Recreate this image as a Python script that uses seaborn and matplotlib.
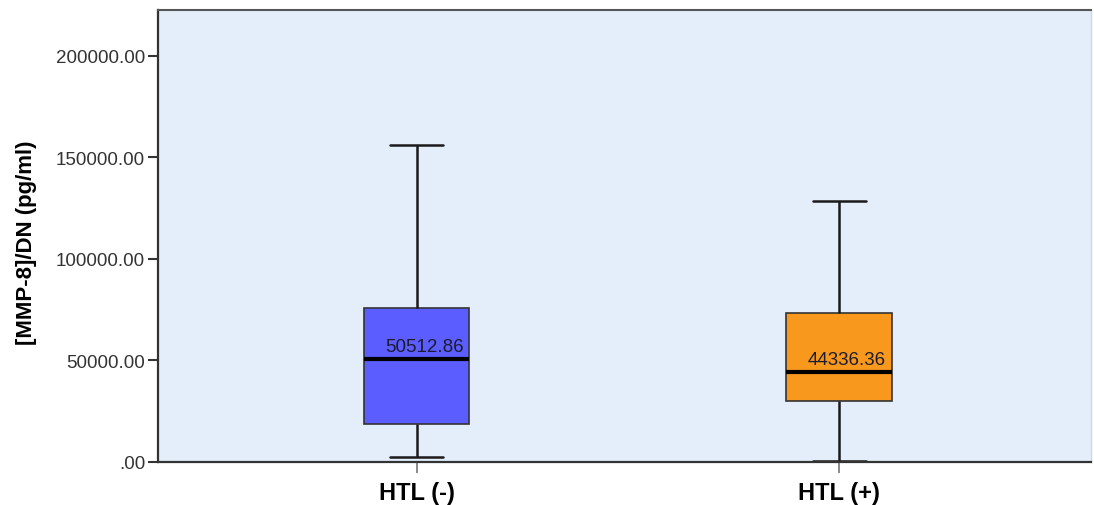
import numpy as np
import pandas as pd
import matplotlib
matplotlib.use("Agg")
import matplotlib.pyplot as plt
from matplotlib.ticker import FuncFormatter
import seaborn as sns

# Data: five-number summaries
categories = ["HTL (-)", "HTL (+)"]
mins = [2460, 500]
q1s = [18700, 30050]
medians = [50512.86, 44336.36]
q3s = [75570, 73250]
maxs = [156000, 128280]
yticks = [0, 50000, 100000, 150000, 200000]
ylabel = "[MMP-8]/DN (pg/ml)"
colors = ["#5b5dff", "#f8991e"]

rows = []
for c, a, b, m, d, e in zip(categories, mins, q1s, medians, q3s, maxs):
    for v in (a, b, m, d, e):
        rows.append({"group": c, "value": v})
df = pd.DataFrame(rows)

sns.set_style("white")
plt.rcParams["font.family"] = ["Liberation Sans", "DejaVu Sans"]

fig = plt.figure(figsize=(10.94, 5.06), dpi=100)
ax = fig.add_axes([0.1441, 0.0856, 0.8535, 0.8933])
ax.set_facecolor("#e3eefa")

sns.boxplot(data=df, x="group", y="value", hue="group", palette=colors,
            order=categories, hue_order=categories, width=0.25, whis=np.inf,
            saturation=1, linecolor="#1a1a1a", linewidth=1.8, legend=False, ax=ax,
            medianprops=dict(color="black", linewidth=3),
            boxprops=dict(edgecolor="#333333", linewidth=1.2))

for i, m in enumerate(medians):
    ax.annotate(f"{m:.2f}", xy=(i + 0.125, m), xytext=(-6, 4),
                textcoords="offset pixels", ha="right", va="bottom",
                fontsize=13.5, color="#1c1c2e")

ax.set_xlim(-0.613, 1.597)
ax.set_ylim(0, 222660)
ax.set_yticks(yticks)
ax.yaxis.set_major_formatter(FuncFormatter(lambda v, p: ".00" if v == 0 else f"{v:.2f}"))
ax.tick_params(axis="y", which="major", length=7, width=1.5, color="#333333",
               labelsize=13.5, labelcolor="#333333", pad=2, left=True)
ax.tick_params(axis="x", which="major", length=8, width=1.2, color="#777777",
               labelsize=17, labelcolor="black", pad=6, bottom=True)
for lab in ax.get_xticklabels():
    lab.set_fontweight("bold")
ax.set_xlabel("")
ax.set_ylabel(ylabel, fontsize=16, fontweight="bold", color="black")
ax.yaxis.set_label_coords(-0.129, 0.487)

for s in ["left", "bottom"]:
    ax.spines[s].set_color("#333333")
    ax.spines[s].set_linewidth(1.6)
ax.spines["top"].set_color("#555555")
ax.spines["top"].set_linewidth(1.5)
ax.spines["right"].set_color("#cfd8e2")
ax.spines["right"].set_linewidth(1.0)

fig.savefig("out.png", dpi=100)
